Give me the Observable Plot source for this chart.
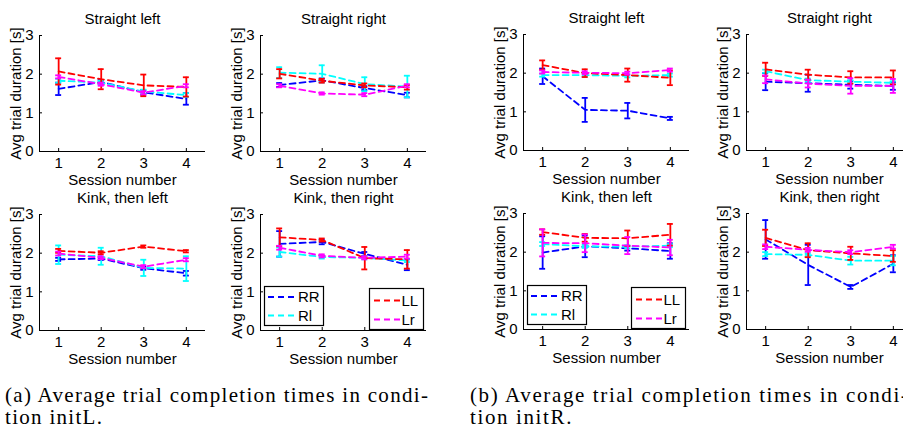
<!DOCTYPE html>
<html>
<head>
<meta charset="utf-8">
<script src="https://cdn.jsdelivr.net/npm/d3@7"></script>
<script src="https://cdn.jsdelivr.net/npm/@observablehq/plot@0.6"></script>
<style>
  html, body { margin: 0; padding: 0; background: #fff; }
  #fig { position: relative; width: 903px; height: 428px; overflow: hidden; background: #fff; }
  .panel { position: absolute; }
  .panel svg { max-width: none !important; }
  .legend { position: absolute; }
  .caption { position: absolute; font-family: "Liberation Serif", serif; font-size: 21px; line-height: 22px; white-space: nowrap; color: #000; }
  .caption div { height: 22px; }
</style>
</head>
<body>
<div id="fig"></div>
<script>
// Sessions and series
const sessions = [1, 2, 3, 4];
const seriesNames = ["RR", "Rl", "LL", "Lr"];
const seriesColors = ["#0000ff", "#00ffff", "#ff0000", "#ff00ff"];
const panelTitles = ["Straight left", "Straight right", "Kink, then left", "Kink, then right"];
const xTicks = [1, 2, 3, 4];
const yTicks = [0, 1, 2, 3];
const xDomain = [0.55, 4.45];
const yDomain = [0, 3];

// Condition initL: mean trial duration per series (rows RR, Rl, LL, Lr) and error half-widths
const initL_straightLeft_mean = [[1.62, 1.80, 1.53, 1.36], [1.83, 1.78, 1.55, 1.46], [2.07, 1.87, 1.71, 1.67], [1.93, 1.74, 1.52, 1.70]];
const initL_straightLeft_err  = [[0.16, 0.05, 0.06, 0.15], [0.05, 0.05, 0.05, 0.05], [0.34, 0.26, 0.28, 0.25], [0.04, 0.04, 0.04, 0.04]];
const initL_straightRight_mean = [[1.72, 1.84, 1.64, 1.46], [2.04, 2.01, 1.74, 1.68], [2.01, 1.83, 1.71, 1.66], [1.70, 1.50, 1.47, 1.70]];
const initL_straightRight_err  = [[0.05, 0.05, 0.05, 0.06], [0.14, 0.22, 0.18, 0.28], [0.12, 0.05, 0.05, 0.06], [0.04, 0.03, 0.04, 0.04]];
const initL_kinkLeft_mean = [[1.84, 1.86, 1.61, 1.48], [1.96, 1.92, 1.62, 1.60], [2.06, 2.01, 2.17, 2.05], [1.99, 1.88, 1.65, 1.83]];
const initL_kinkLeft_err  = [[0.04, 0.04, 0.04, 0.06], [0.24, 0.22, 0.21, 0.32], [0.05, 0.04, 0.03, 0.03], [0.05, 0.04, 0.04, 0.04]];
const initL_kinkRight_mean = [[2.24, 2.29, 1.98, 1.70], [2.03, 1.90, 1.88, 1.81], [2.41, 2.34, 1.87, 1.84], [2.14, 1.93, 1.88, 1.91]];
const initL_kinkRight_err  = [[0.33, 0.06, 0.05, 0.14], [0.12, 0.04, 0.04, 0.04], [0.23, 0.04, 0.29, 0.24], [0.05, 0.04, 0.04, 0.05]];

// Condition initR
const initR_straightLeft_mean = [[1.92, 1.05, 1.03, 0.83], [1.95, 1.95, 1.93, 1.95], [2.21, 2.00, 1.95, 1.88], [2.03, 2.01, 2.00, 2.08]];
const initR_straightLeft_err  = [[0.20, 0.31, 0.20, 0.04], [0.04, 0.04, 0.04, 0.04], [0.12, 0.10, 0.17, 0.19], [0.04, 0.04, 0.04, 0.04]];
const initR_straightRight_mean = [[1.78, 1.74, 1.70, 1.67], [2.05, 1.82, 1.78, 1.75], [2.10, 1.96, 1.89, 1.89], [1.84, 1.73, 1.67, 1.67]];
const initR_straightRight_err  = [[0.22, 0.22, 0.10, 0.10], [0.04, 0.04, 0.04, 0.04], [0.17, 0.13, 0.16, 0.18], [0.10, 0.10, 0.20, 0.18]];
const initR_kinkLeft_mean = [[1.99, 2.15, 2.10, 2.03], [2.21, 2.15, 2.14, 2.17], [2.52, 2.37, 2.36, 2.45], [2.24, 2.23, 2.17, 2.12]];
const initR_kinkLeft_err  = [[0.42, 0.28, 0.06, 0.20], [0.05, 0.04, 0.04, 0.04], [0.07, 0.10, 0.20, 0.28], [0.35, 0.23, 0.22, 0.20]];
const initR_kinkRight_mean = [[2.33, 1.67, 1.10, 1.70], [1.95, 1.93, 1.78, 1.78], [2.37, 2.05, 1.97, 1.90], [2.14, 2.06, 2.00, 2.14]];
const initR_kinkRight_err  = [[0.50, 0.52, 0.05, 0.22], [0.05, 0.04, 0.10, 0.12], [0.21, 0.18, 0.17, 0.15], [0.06, 0.05, 0.05, 0.05]];

const captionA = ["(a) Average trial completion times in condi-", "tion initL."];
const captionB = ["(b) Average trial completion times in condi-", "tion initR."];

// Panel geometry (frame size in px, margins of each svg)
const M = {left: 38, right: 14, top: 33, bottom: 40};
const frameW = 166, frameH = 116;
const svgW = M.left + frameW + M.right, svgH = M.top + frameH + M.bottom;
const capHalf = 0.07;
const font = '"Liberation Sans", Arial, Helvetica, sans-serif';

function makePanel(title, means, errs) {
  const rows = [];
  seriesNames.forEach((name, i) =>
    sessions.forEach((s, j) => rows.push({series: name, session: s, mean: means[i][j], err: errs[i][j]})));

  const seriesMarks = seriesNames.flatMap(name => {
    const d = rows.filter(r => r.series === name);
    return [
      Plot.line(d, {x: "session", y: "mean", stroke: "series", strokeWidth: 1.8, strokeDasharray: "6,4"}),
      Plot.ruleX(d, {x: "session", y1: r => r.mean - r.err, y2: r => r.mean + r.err, stroke: "series", strokeWidth: 1.8}),
      Plot.ruleY(d, {y: r => r.mean - r.err, x1: r => r.session - capHalf, x2: r => r.session + capHalf, stroke: "series", strokeWidth: 1.8}),
      Plot.ruleY(d, {y: r => r.mean + r.err, x1: r => r.session - capHalf, x2: r => r.session + capHalf, stroke: "series", strokeWidth: 1.8})
    ];
  });

  return Plot.plot({
    width: svgW,
    height: svgH,
    marginLeft: M.left, marginRight: M.right, marginTop: M.top, marginBottom: M.bottom,
    style: {fontFamily: font, fontSize: "15px", background: "transparent", color: "#000", overflow: "visible", maxWidth: "none"},
    x: {domain: xDomain},
    y: {domain: yDomain},
    color: {domain: seriesNames, range: seriesColors},
    marks: [
      // inward tick marks
      Plot.gridX(xTicks, {stroke: "#000", strokeOpacity: 1, insetTop: frameH - 3}),
      Plot.gridY(yTicks, {stroke: "#000", strokeOpacity: 1, insetRight: frameW - 3}),
      // axis lines
      Plot.ruleX([xDomain[0]], {stroke: "#000"}),
      Plot.ruleY([yDomain[0]], {stroke: "#000"}),
      Plot.axisX({ticks: xTicks, tickFormat: "d", tickSize: 0, tickPadding: 6, label: "Session number", labelAnchor: "center", labelOffset: 33, labelArrow: "none"}),
      Plot.axisY({ticks: yTicks, tickFormat: "d", tickSize: 0, tickPadding: 6, label: "Avg trial duration [s]", labelAnchor: "center", labelOffset: 29, labelArrow: "none"}),
      ...seriesMarks,
      Plot.text([title], {text: d => d, frameAnchor: "top", dy: -12, lineAnchor: "bottom", fill: "#000"})
    ]
  });
}

function makeLegend(entries, w, h, rowsY, lineX0, lineX1) {
  const svg = d3.create("svg").attr("width", w).attr("height", h)
    .style("font-family", font).style("font-size", "15px").style("overflow", "visible");
  svg.append("rect").attr("x", 0.5).attr("y", 0.5).attr("width", w - 1).attr("height", h - 1)
    .attr("fill", "#fff").attr("stroke", "#000").attr("stroke-width", 1.2);
  entries.forEach((e, k) => {
    svg.append("line").attr("x1", lineX0).attr("x2", lineX1).attr("y1", rowsY[k]).attr("y2", rowsY[k])
      .attr("stroke", e.color).attr("stroke-width", 1.8).attr("stroke-dasharray", "6,4");
    svg.append("text").attr("x", lineX1 + 1).attr("y", rowsY[k]).attr("dy", "0.36em").text(e.name);
  });
  return svg.node();
}

const fig = document.getElementById("fig");

const panels = [
  {title: panelTitles[0], means: initL_straightLeft_mean, errs: initL_straightLeft_err, axisX: 39, frameTop: 35},
  {title: panelTitles[1], means: initL_straightRight_mean, errs: initL_straightRight_err, axisX: 259.5, frameTop: 35},
  {title: panelTitles[2], means: initL_kinkLeft_mean, errs: initL_kinkLeft_err, axisX: 39, frameTop: 214.3},
  {title: panelTitles[3], means: initL_kinkRight_mean, errs: initL_kinkRight_err, axisX: 260, frameTop: 214.3, legend: true},
  {title: panelTitles[0], means: initR_straightLeft_mean, errs: initR_straightLeft_err, axisX: 523, frameTop: 33.5},
  {title: panelTitles[1], means: initR_straightRight_mean, errs: initR_straightRight_err, axisX: 746, frameTop: 33.5},
  {title: panelTitles[2], means: initR_kinkLeft_mean, errs: initR_kinkLeft_err, axisX: 522.7, frameTop: 213.3, legend: true},
  {title: panelTitles[3], means: initR_kinkRight_mean, errs: initR_kinkRight_err, axisX: 746, frameTop: 213.3}
];

panels.forEach(p => {
  const div = document.createElement("div");
  div.className = "panel";
  div.style.left = (p.axisX - M.left) + "px";
  div.style.top = (p.frameTop - M.top) + "px";
  div.style.width = svgW + "px";
  div.style.height = svgH + "px";
  div.appendChild(makePanel(p.title, p.means, p.errs));
  if (p.legend) {
    const left = makeLegend(
      [{name: seriesNames[0], color: seriesColors[0]}, {name: seriesNames[1], color: seriesColors[1]}],
      60, 40, [11, 29.5], 4, 33);
    left.setAttribute("class", "legend");
    left.style.left = (M.left + 4) + "px";
    left.style.top = (M.top + 71.5) + "px";
    div.appendChild(left);
    const right = makeLegend(
      [{name: seriesNames[2], color: seriesColors[2]}, {name: seriesNames[3], color: seriesColors[3]}],
      55, 42, [12.5, 31.5], 5, 31.5);
    right.setAttribute("class", "legend");
    right.style.left = (M.left + 108.5) + "px";
    right.style.top = (M.top + frameH - 42) + "px";
    div.appendChild(right);
  }
  fig.appendChild(div);
});

[[captionA, 5, 1.3], [captionB, 470, 1.62]].forEach(([lines, x, spacing]) => {
  const c = document.createElement("div");
  c.className = "caption";
  c.style.left = x + "px";
  c.style.top = "384px";
  c.style.letterSpacing = spacing + "px";
  c.innerHTML = lines.map(l => `<div>${l}</div>`).join("");
  fig.appendChild(c);
});
</script>
</body>
</html>
